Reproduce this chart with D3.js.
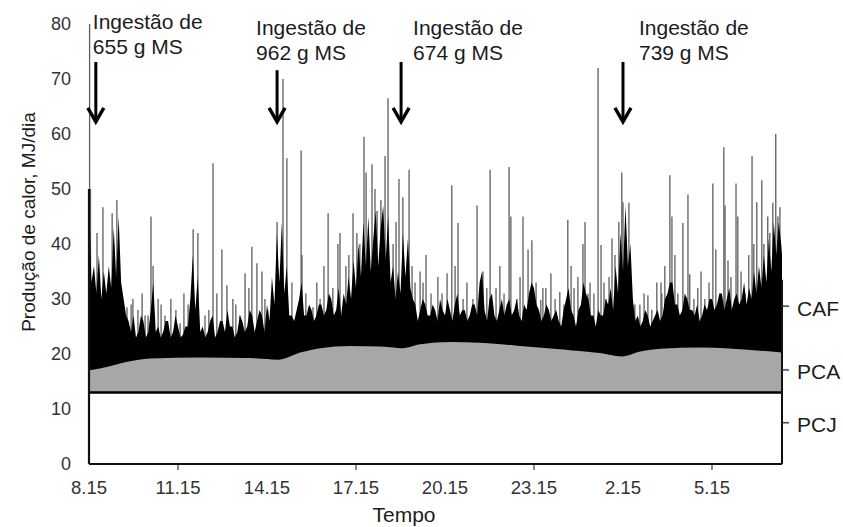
<!DOCTYPE html>
<html lang="pt">
<head>
<meta charset="utf-8">
<script src="https://cdn.jsdelivr.net/npm/d3@7/dist/d3.min.js"></script>
<style>
  html, body { margin: 0; padding: 0; background: #fff; }
  svg { display: block; font-family: "Liberation Sans", Arial, sans-serif; }
</style>
</head>
<body>
<svg id="chart" width="843" height="527"></svg>
<script>
// Horas desde o início do registo (8.15) e rótulos do eixo do tempo
const tickHours = [0, 3, 6, 9, 12, 15, 18, 21];
const tickLabels = ["8.15", "11.15", "14.15", "17.15", "20.15", "23.15", "2.15", "5.15"];
const markedHours = [3, 9, 15, 21];
const yTicks = [0, 10, 20, 30, 40, 50, 60, 70, 80];

// Produção de calor em jejum (PCJ), constante
const pcj = 13;

// Produção de calor da atividade (PCA): limite superior ao longo do tempo
const pcaHours = [0, 0.37, 1.38, 2.06, 3.74, 5.43, 6.37, 7.11, 7.79, 8.80, 9.81, 10.58,
  11.16, 12.17, 13.18, 14.53, 15.87, 17.22, 17.96, 18.57, 19.25, 20.60, 21.94, 23.36];
const pcaTop = [17.2, 17.5, 18.8, 19.3, 19.5, 19.4, 19.1, 20.4, 21.2, 21.6, 21.5, 21.2,
  21.9, 22.3, 22.2, 21.6, 21.0, 20.3, 19.7, 20.6, 21.1, 21.3, 21.0, 20.4];

// Calor associado à alimentação (CAF): registo denso, um valor a cada 5 min
const cafStep = 1 / 12;
const cafDense = [
  49, 33, 36, 31, 38, 30, 35, 31, 36, 32,
  43, 34, 45, 33, 30, 27, 26, 24, 27, 23,
  24, 27, 26, 23, 24, 28, 33, 24, 25, 23,
  24, 26, 26, 23, 24, 27, 25, 23, 23.5, 25,
  25, 30, 38, 28, 34, 24, 25, 23, 24, 26,
  27, 23, 24, 26, 26, 24, 28, 25, 25, 23,
  24, 27, 26, 24, 25, 28, 27, 24, 26, 28,
  27, 24, 29, 26, 34, 29, 42, 33, 44, 31,
  36, 27, 27, 26, 28, 30, 33, 27, 27, 29,
  28, 26, 27, 29, 29, 27, 28, 31, 30, 27,
  28, 32, 27, 31, 29, 34, 30, 37, 32, 40,
  34, 44, 36, 45, 35, 41, 46, 36, 43, 47,
  37, 45, 33, 36, 30, 35, 31, 42, 34, 41,
  32, 30, 29, 26, 28, 30, 29, 27, 27, 29,
  28, 26, 30, 28, 27, 30, 28, 26, 29, 31,
  27, 28, 28, 26, 27, 29, 29, 27, 33, 35,
  28, 26, 30, 31, 27, 26, 28, 30, 27, 29,
  30, 27, 28, 30, 27, 26, 29, 28, 31, 33,
  32, 29, 28, 26, 27, 29, 28, 26, 27, 28,
  26, 25, 28, 30, 32, 28, 27, 25, 28, 29,
  33, 31, 30, 27, 27, 25, 28, 27, 27, 30,
  29, 32, 28, 36, 31, 42, 35, 47, 36, 40,
  30, 26, 27, 25, 26, 28, 27, 25, 26, 27,
  28, 26, 27, 30, 31, 33, 33, 29, 29, 27,
  28, 31, 30, 28, 28, 27, 29, 26, 27, 29,
  28, 30, 30, 28, 29, 31, 31, 28, 30, 32,
  28, 30, 31, 29, 30, 33, 29, 32, 30, 35,
  31, 36, 32, 38, 33, 41, 35, 44, 38, 44,
  40
];

// Picos individuais de produção de calor (hora, MJ/dia)
const spikeHours = [0.02, 0.05, 0.27, 0.47, 0.78, 0.94, 1.28, 1.48, 1.65, 1.89,
  2.09, 2.16, 2.33, 2.56, 2.76, 3.07, 3.34, 3.51, 3.67, 3.91,
  4.18, 4.48, 4.65, 4.85, 5.09, 5.26, 5.49, 5.66, 5.83, 6.03,
  6.34, 6.54, 6.67, 6.84, 7.15, 7.18, 7.55, 7.79, 8.06, 8.22,
  8.39, 8.46, 8.66, 8.90, 9.03, 9.27, 9.34, 9.54, 9.64, 9.71,
  9.98, 10.08, 10.25, 10.45, 10.58, 10.79, 10.99, 11.16, 11.36, 11.53,
  11.76, 12.07, 12.23, 12.44, 12.61, 12.74, 13.08, 13.28, 13.52, 13.72,
  13.85, 14.16, 14.22, 14.43, 14.63, 14.80, 14.93, 15.07, 15.23, 15.40,
  15.57, 15.71, 15.87, 16.01, 16.14, 16.35, 16.48, 16.65, 16.72, 16.89,
  17.02, 17.16, 17.26, 17.43, 17.53, 17.63, 17.73, 17.96, 18.00, 18.20,
  18.40, 18.57, 18.84, 18.97, 19.14, 19.31, 19.41, 19.58, 19.65, 19.85,
  20.02, 20.19, 20.25, 20.39, 20.52, 20.76, 20.90, 21.03, 21.13, 21.27,
  21.40, 21.44, 21.64, 21.81, 21.87, 22.11, 22.24, 22.35, 22.51, 22.68,
  22.75, 22.88, 23.05, 23.15, 23.22, 23.29];
const spikeValues = [80, 50, 42, 46.7, 45.6, 48, 28.5, 30, 28, 27,
  45, 36, 30, 27, 30, 25.6, 29, 42.7, 42, 27,
  54.7, 39, 32.5, 30, 27, 34.7, 39.5, 36.5, 35, 28,
  44, 70, 55.6, 33, 57, 38, 28.5, 30, 45.6, 32,
  40, 42, 36, 45.6, 42, 59.5, 53, 54.5, 50, 46,
  56, 66.5, 40, 51.8, 48.5, 53.5, 33, 35, 38, 31,
  34, 34.7, 50.7, 43.8, 30, 33, 47, 35, 53.5, 32,
  36, 54, 45, 30, 45, 39, 40.7, 33, 29.8, 32,
  34.7, 30, 31.3, 29, 44.4, 32, 34, 40, 44, 33,
  31, 72, 39.8, 30, 34, 41, 38, 53, 47.6, 47.5,
  29, 29, 30.7, 28, 33, 31, 36, 52.5, 45, 31,
  43.8, 49, 34.5, 30, 32, 30, 33, 51, 39, 31,
  57.6, 47, 34, 51, 45, 31, 38, 56, 47.6, 51.6,
  40, 45, 47.5, 60, 45, 46.7];

// Picos menores, mais frequentes
const minorSpikeHours = [1.42, 1.79, 1.99, 2.43, 2.93, 3.20, 4.04, 4.31, 4.95, 5.39,
  5.93, 7.31, 7.68, 7.92, 8.76, 9.13, 9.84, 10.35, 10.89, 11.26,
  11.90, 12.34, 12.94, 13.41, 13.99, 14.53, 15.30, 16.25, 16.82, 17.36,
  17.86, 18.10, 18.71, 19.28, 19.75, 20.63, 21.54, 21.98, 22.41, 22.95];
const minorSpikeValues = [29, 31, 27, 29, 28, 31, 28, 31, 29, 32,
  30, 31, 33, 36, 38, 40, 48, 44, 36, 33,
  31, 36, 30, 32, 31, 34, 32, 36, 31, 33,
  44, 40, 31, 33, 38, 35, 37, 35, 40, 42];

// Refeições fornecidas
const mealHours = [0.23, 6.34, 10.52, 18.0];
const mealLines = [["Ingestão de", "655 g MS"], ["Ingestão de", "962 g MS"],
  ["Ingestão de", "674 g MS"], ["Ingestão de", "739 g MS"]];

// Componentes indicados à direita
const partLabels = ["CAF", "PCA", "PCJ"];
const partLevels = [28.7, 17.1, 7.5];

const svg = d3.select("#chart");
const x = d3.scaleLinear().domain([0, 23.36]).range([89, 782]);
const y = d3.scaleLinear().domain([0, 80]).range([464, 24]);

const ink = "#1c1c1c";

// Picos finos (cinzento)
const spikes = spikeHours.map((h, i) => ({ h, v: spikeValues[i] }))
  .concat(minorSpikeHours.map((h, i) => ({ h, v: minorSpikeValues[i] })));
svg.append("g")
  .selectAll("line")
  .data(spikes)
  .join("line")
  .attr("x1", d => x(d.h)).attr("x2", d => x(d.h))
  .attr("y1", y(pcj)).attr("y2", d => y(d.v))
  .attr("stroke", "#5e5e5e")
  .attr("stroke-width", 1.3);

// Registo denso do CAF (preto)
const cafData = cafDense.map((v, i) => ({ h: i * cafStep, v }));
cafData.push({ h: 23.36, v: 38 });
svg.append("path")
  .datum(cafData)
  .attr("fill", "#000")
  .attr("d", d3.area().x(d => x(d.h)).y0(y(pcj)).y1(d => y(d.v)));

// Faixa da PCA (cinzento)
const pcaData = pcaHours.map((h, i) => ({ h, v: pcaTop[i] }));
svg.append("path")
  .datum(pcaData)
  .attr("fill", "#a7a7a7")
  .attr("d", d3.area().curve(d3.curveMonotoneX).x(d => x(d.h)).y0(y(pcj)).y1(d => y(d.v)));
svg.append("path")
  .datum(pcaData)
  .attr("fill", "none")
  .attr("stroke", "#000")
  .attr("stroke-width", 1.5)
  .attr("d", d3.line().curve(d3.curveMonotoneX).x(d => x(d.h)).y(d => y(d.v)));

// Limite da PCJ
svg.append("line")
  .attr("x1", x(0)).attr("x2", x(23.36))
  .attr("y1", y(pcj)).attr("y2", y(pcj))
  .attr("stroke", "#000").attr("stroke-width", 2.6);

// Eixos
svg.append("line")
  .attr("x1", x(0)).attr("x2", x(23.36))
  .attr("y1", y(0)).attr("y2", y(0))
  .attr("stroke", "#111").attr("stroke-width", 2);
svg.append("line")
  .attr("x1", x(0)).attr("x2", x(0))
  .attr("y1", y(0)).attr("y2", y(50))
  .attr("stroke", "#111").attr("stroke-width", 2.2);
svg.append("line")
  .attr("x1", x(23.36)).attr("x2", x(23.36))
  .attr("y1", y(0)).attr("y2", y(33.5))
  .attr("stroke", "#111").attr("stroke-width", 2);

// Eixo do tempo
const gx = svg.append("g");
gx.selectAll("line")
  .data(markedHours)
  .join("line")
  .attr("x1", d => x(d)).attr("x2", d => x(d))
  .attr("y1", y(0) + 1).attr("y2", y(0) + 6)
  .attr("stroke", "#555").attr("stroke-width", 1.4);
gx.selectAll("text")
  .data(tickHours)
  .join("text")
  .attr("x", d => x(d))
  .attr("y", 494)
  .attr("text-anchor", "middle")
  .attr("font-size", 18.5)
  .attr("fill", "#333")
  .text((d, i) => tickLabels[i]);
svg.append("text")
  .attr("x", 404).attr("y", 522)
  .attr("text-anchor", "middle")
  .attr("font-size", 21)
  .attr("fill", ink)
  .text("Tempo");

// Eixo vertical
svg.append("g")
  .selectAll("text")
  .data(yTicks)
  .join("text")
  .attr("x", 71)
  .attr("y", d => y(d))
  .attr("dy", "0.35em")
  .attr("text-anchor", "end")
  .attr("font-size", 18)
  .attr("fill", "#333")
  .text(d => d);
svg.append("text")
  .attr("transform", "translate(35,222) rotate(-90)")
  .attr("text-anchor", "middle")
  .attr("font-size", 19)
  .attr("fill", ink)
  .text("Produção de calor, MJ/dia");

// Componentes à direita
const gr = svg.append("g");
gr.selectAll("line")
  .data(partLevels)
  .join("line")
  .attr("x1", x(23.36)).attr("x2", x(23.36) + 7)
  .attr("y1", d => y(d)).attr("y2", d => y(d))
  .attr("stroke", "#333").attr("stroke-width", 1.4);
gr.selectAll("text")
  .data(partLevels)
  .join("text")
  .attr("x", 797)
  .attr("y", d => y(d) + 2)
  .attr("dy", "0.35em")
  .attr("font-size", 21)
  .attr("fill", ink)
  .text((d, i) => partLabels[i]);

// Setas e textos das refeições
const arrowTop = [73.1, 71.6, 73.1, 73.1];
const arrowTip = 62.2;
const labelDx = [-3, -21, 12, 16];
const labelY = [29, 35, 35, 35];
mealHours.forEach((h, i) => {
  const ax = x(h);
  const g = svg.append("g");
  g.append("line")
    .attr("x1", ax).attr("x2", ax)
    .attr("y1", y(arrowTop[i])).attr("y2", y(arrowTip) - 2)
    .attr("stroke", "#000").attr("stroke-width", 3);
  g.append("path")
    .attr("d", `M${ax - 8},${y(arrowTip) - 14} L${ax},${y(arrowTip)} L${ax + 8},${y(arrowTip) - 14}`)
    .attr("fill", "none")
    .attr("stroke", "#000")
    .attr("stroke-width", 3.4)
    .attr("stroke-linejoin", "miter");
  const t = g.append("text")
    .attr("x", ax + labelDx[i])
    .attr("y", labelY[i])
    .attr("font-size", 21)
    .attr("fill", ink);
  mealLines[i].forEach((s, k) => {
    t.append("tspan").attr("x", ax + labelDx[i]).attr("dy", k === 0 ? 0 : 24.5).text(s);
  });
});
</script>
</body>
</html>
